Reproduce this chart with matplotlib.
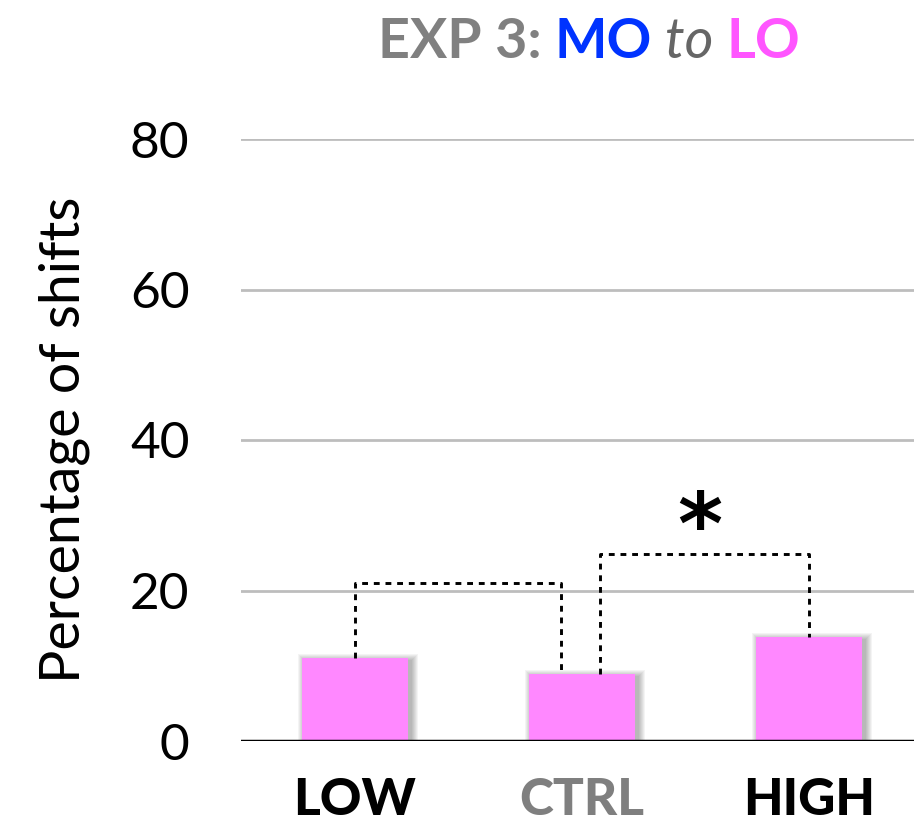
import matplotlib
matplotlib.use("Agg")
import matplotlib.pyplot as plt
from matplotlib.offsetbox import TextArea, HPacker, AnchoredOffsetbox

# data
categories = ["LOW", "CTRL", "HIGH"]
values = [11.0, 8.9, 13.8]
label_colors = ["black", "#7f7f7f", "black"]
yticks = [0, 20, 40, 60, 80]
# brackets: (start cat, end cat, height, start offset, end offset)
brackets = [(0, 1, 21.0, 0.0, -0.09), (1, 2, 24.8, 0.08, 0.0)]
star_pos = (1.52, 28.0)

plt.rcParams["font.family"] = ["Lato", "DejaVu Sans"]

fig = plt.figure(figsize=(9.14, 8.23), dpi=100)
ax = fig.add_axes([241 / 914, 82 / 823, 673 / 914, 602 / 823])

x = list(range(len(categories)))
bar_w = 0.47
px_x = 1 / 227.0   # one pixel in data units
px_y = 80 / 602.0

# soft blurred shadow behind bars
for d in range(1, 8):
    ax.bar([i + 3 * px_x for i in x], [v + (d - 1) * px_y for v in values],
           width=bar_w + 2 * d * px_x, bottom=-2 * px_y,
           color="black", alpha=0.045, zorder=2, linewidth=0)
ax.bar(x, values, width=bar_w, color="#ff88ff", zorder=3, linewidth=0)

# grid
for t in yticks[1:]:
    ax.axhline(t, color="#bdbdbd", lw=2, zorder=1)
ax.axhline(0, color="black", lw=2.5, zorder=4)

# brackets
for a, b, h, oa, ob in brackets:
    xa, xb = a + oa, b + ob
    ax.plot([xa, xa, xb, xb], [values[a], h, h, values[b]], color="black",
            lw=2.1, linestyle=(0, (2, 2)), zorder=5)
ax.text(star_pos[0], star_pos[1], "*", fontsize=62, fontweight="bold",
        ha="center", va="center", family="DejaVu Sans")

ax.set_xlim(-0.502, 2.463)
ax.set_ylim(0, 80)
for s in ax.spines.values():
    s.set_visible(False)
ax.set_yticks(yticks)
ax.set_yticklabels([str(t) for t in yticks], fontsize=37)
ax.tick_params(axis="y", length=0, pad=37)
ax.set_xticks(x)
ax.set_xticklabels(categories, fontsize=37, fontweight="black")
for lab, c in zip(ax.get_xticklabels(), label_colors):
    lab.set_color(c)
ax.tick_params(axis="x", length=0, pad=26)
ax.set_ylabel("Percentage of shifts", fontsize=40)
ax.yaxis.set_label_coords(-0.225, 0.5)

# multi-coloured title
parts = [("EXP 3: ", "#808080", "bold", "normal"),
         ("MO", "#0033ff", "bold", "normal"),
         (" to ", "#666666", "normal", "italic"),
         ("LO", "#ff55ff", "bold", "normal")]
areas = [TextArea(t, textprops=dict(color=c, fontsize=40, fontweight=w, fontstyle=st))
         for t, c, w, st in parts]
box = HPacker(children=areas, align="baseline", pad=0, sep=0)
anch = AnchoredOffsetbox(loc="center", child=box, frameon=False,
                         bbox_to_anchor=(589 / 914, 781 / 823),
                         bbox_transform=fig.transFigure, borderpad=0, pad=0)
fig.add_artist(anch)

fig.savefig("out.png", dpi=100)
